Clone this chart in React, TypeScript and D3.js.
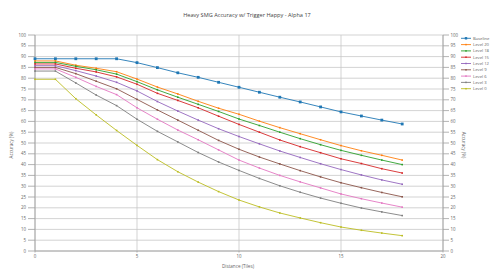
import React from "react";
import * as d3 from "d3";

const W = 494;
const H = 278;

const title = "Heavy SMG Accuracy w/ Trigger Happy - Alpha 17";
const xTitle = "Distance (Tiles)";
const yTitle = "Accuracy (%)";

const distances = [0, 1, 2, 3, 4, 5, 6, 7, 8, 9, 10, 11, 12, 13, 14, 15, 16, 17, 18];
const xTicks = [0, 5, 10, 15, 20];
const yTicks = [0, 5, 10, 15, 20, 25, 30, 35, 40, 45, 50, 55, 60, 65, 70, 75, 80, 85, 90, 95, 100];

const seriesNames = ["Baseline", "Level 20", "Level 18", "Level 15", "Level 12", "Level 9", "Level 6", "Level 3", "Level 0"];

const baseline = [89, 89, 89, 89, 89, 87.2, 84.9, 82.5, 80.4, 78.1, 75.8, 73.5, 71.2, 69.0, 66.7, 64.4, 62.5, 60.6, 58.8];
const level20 = [88, 88, 86.0, 84.6, 83.0, 79.6, 75.9, 72.7, 69.3, 66.1, 63.3, 60.1, 57.1, 54.3, 51.5, 48.8, 46.4, 44.3, 42.1];
const level18 = [87.3, 87.3, 85.5, 83.9, 81.9, 78.4, 74.6, 71.2, 67.9, 64.6, 61.1, 58.1, 55.0, 52.0, 49.2, 46.6, 44.3, 42.1, 40.0];
const level15 = [86.6, 86.6, 84.6, 82.9, 80.6, 77.2, 73.0, 69.7, 66.3, 62.4, 58.6, 55.0, 51.4, 48.3, 45.5, 42.7, 40.5, 38.1, 36.1];
const level12 = [85.8, 85.8, 83.5, 81.0, 78.1, 74.1, 69.2, 64.8, 60.6, 56.6, 53.0, 49.6, 46.3, 43.3, 40.4, 37.7, 35.2, 32.9, 30.9];
const level9 = [85.0, 85.0, 82.1, 78.6, 75.1, 70.2, 65.3, 60.6, 55.9, 51.2, 47.1, 43.5, 40.3, 37.2, 34.3, 31.6, 29.3, 27.1, 25.1];
const level6 = [84.3, 84.3, 80.4, 76.2, 72.4, 66.3, 61.0, 56.0, 51.5, 46.8, 42.1, 38.4, 35.0, 32.0, 29.2, 26.4, 24.2, 22.2, 20.3];
const level3 = [83.3, 83.3, 77.8, 72.2, 67.3, 61.0, 55.4, 50.5, 45.6, 41.2, 37.3, 33.6, 30.2, 27.2, 24.5, 22.1, 19.9, 18.1, 16.4];
const level0 = [79.5, 79.5, 70.5, 63.0, 55.8, 48.9, 42.3, 36.7, 31.9, 27.5, 23.6, 20.4, 17.6, 15.3, 13.1, 11.1, 9.6, 8.3, 7.1];

const seriesValues = [baseline, level20, level18, level15, level12, level9, level6, level3, level0];

const FONT = "'Open Sans', sans-serif";

export default function App() {
  const left = 35;
  const right = 443;
  const top = 35;
  const bottom = 251;

  const x = d3.scaleLinear().domain([0, 20]).range([left, right]);
  const y = d3.scaleLinear().domain([0, 100]).range([bottom, top]);
  const color = d3.scaleOrdinal<string, string>().domain(seriesNames).range(d3.schemeCategory10);

  const line = d3
    .line<number>()
    .x((_, i) => x(distances[i]))
    .y((d) => y(d));

  const gridColor = "#c8c8c8";
  const axisColor = "#a0a0a0";
  const textColor = "#666";

  return (
    <svg width={W} height={H} style={{ position: "absolute", left: 0, top: 0, background: "#fff" }} fontFamily={FONT}>
      <rect x={0} y={0} width={W} height={H} fill="#fff" />
      <text x={247} y={17} textAnchor="middle" fontSize={5.6} fill="#444">
        {title}
      </text>

      {/* horizontal grid */}
      {yTicks.map((t) => (
        <line key={"hg" + t} x1={left} x2={right} y1={y(t)} y2={y(t)} stroke={gridColor} strokeWidth={0.8} />
      ))}
      {/* vertical grid */}
      {xTicks.map((t) => (
        <line key={"vg" + t} x1={x(t)} x2={x(t)} y1={top} y2={bottom} stroke={gridColor} strokeWidth={0.8} />
      ))}

      {/* left axis */}
      <line x1={left} x2={left} y1={top} y2={bottom} stroke={axisColor} strokeWidth={0.9} />
      {yTicks.map((t) => (
        <g key={"ly" + t}>
          <line x1={left - 7} x2={left} y1={y(t)} y2={y(t)} stroke={axisColor} strokeWidth={0.8} />
          <text x={left - 9} y={y(t)} dy="0.35em" textAnchor="end" fontSize={4.4} fill={textColor}>
            {t}
          </text>
        </g>
      ))}
      {/* right axis */}
      <line x1={right} x2={right} y1={top} y2={bottom} stroke={axisColor} strokeWidth={0.9} />
      {yTicks.map((t) => (
        <g key={"ry" + t}>
          <line x1={right} x2={right + 6} y1={y(t)} y2={y(t)} stroke={axisColor} strokeWidth={0.8} />
          <text x={right + 7.5} y={y(t)} dy="0.35em" textAnchor="start" fontSize={4.4} fill={textColor}>
            {t}
          </text>
        </g>
      ))}
      {/* bottom axis */}
      <line x1={left} x2={right} y1={bottom} y2={bottom} stroke={axisColor} strokeWidth={0.9} />
      {xTicks.map((t) => (
        <g key={"bx" + t}>
          <line x1={x(t)} x2={x(t)} y1={bottom} y2={bottom + 1.5} stroke={axisColor} strokeWidth={0.8} />
          <text x={x(t)} y={bottom + 5} dy="0.35em" textAnchor="middle" fontSize={4.4} fill={textColor}>
            {t}
          </text>
        </g>
      ))}

      <text x={238} y={268} textAnchor="middle" fontSize={4.6} fill={textColor}>
        {xTitle}
      </text>
      <text transform={`translate(13,145) rotate(-90)`} textAnchor="middle" fontSize={4.6} fill={textColor}>
        {yTitle}
      </text>
      <text transform={`translate(462,145) rotate(90)`} textAnchor="middle" fontSize={4.6} fill={textColor}>
        {yTitle}
      </text>

      {/* series */}
      {seriesNames.map((name, si) => {
        const vals = seriesValues[si];
        const c = color(name);
        const ms = si === 0 ? 2.8 : 1.6;
        return (
          <g key={name}>
            <path d={line(vals) || ""} fill="none" stroke={c} strokeWidth={0.9} />
            {vals.map((v, i) => (
              <rect key={i} x={x(distances[i]) - ms / 2} y={y(v) - ms / 2} width={ms} height={ms} fill={c} />
            ))}
          </g>
        );
      })}

      {/* legend */}
      {seriesNames.map((name, si) => {
        const ly = 38.3 + si * 6.3;
        const c = color(name);
        const ms = si === 0 ? 2.4 : 1.5;
        return (
          <g key={"lg" + name}>
            <line x1={461} x2={471} y1={ly} y2={ly} stroke={c} strokeWidth={0.9} />
            <rect x={466 - ms / 2} y={ly - ms / 2} width={ms} height={ms} fill={c} />
            <text x={473} y={ly} dy="0.35em" fontSize={4.2} fill={textColor}>
              {name}
            </text>
          </g>
        );
      })}
    </svg>
  );
}
